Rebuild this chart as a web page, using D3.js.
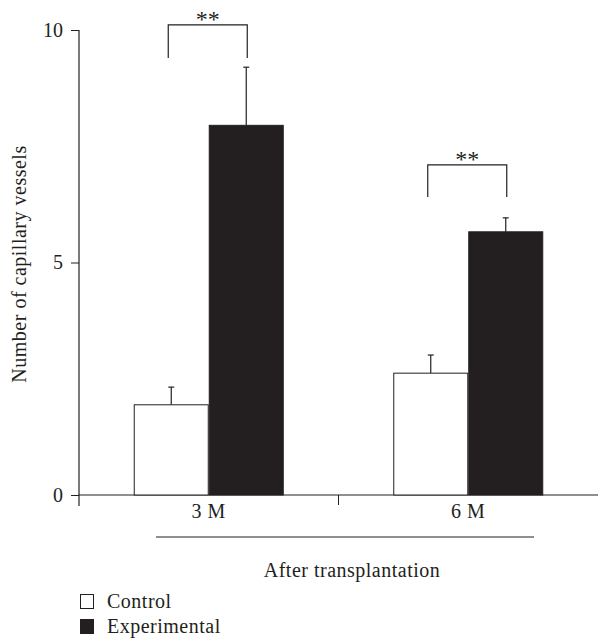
<!DOCTYPE html>
<html><head><meta charset="utf-8">
<script src="https://cdn.jsdelivr.net/npm/d3@7"></script>
<style>body{margin:0;background:#fff}svg{display:block}text{font-family:"Liberation Serif","DejaVu Serif",serif;fill:#231f20}</style>
</head><body><svg id="c" width="598" height="640"></svg>
<script>
const categories = ["3 M", "6 M"];
const seriesNames = ["Control", "Experimental"];
const controlValues = [1.94, 2.62];
const controlErrors = [0.38, 0.39];
const experimentalValues = [7.95, 5.66];
const experimentalErrors = [1.25, 0.30];
const yTicks = [0, 5, 10];
const sigLabels = ["**", "**"];
const sigTop = [10.11, 7.1];
const sigLeg = [9.4, 6.41];

const svg = d3.select("#c");
const ink = "#231f20";
const FS = 20;
const LS = "0.5px";
const y = d3.scaleLinear().domain([0, 10]).range([495, 30]);
const x0 = d3.scaleBand().domain(categories).range([79, 598]).padding(0);
const x1 = d3.scaleBand().domain(seriesNames).range([0, 150]);
const groupOffset = (x0.bandwidth() - 150) / 2;
const fills = { Control: "#fff", Experimental: ink };

// y axis
const yAxis = d3.axisLeft(y).tickValues(yTicks).tickSize(8).tickPadding(8).tickFormat(d3.format("d"));
const ya = svg.append("g").attr("transform", "translate(79,0)").call(yAxis);
ya.select(".domain").remove();
ya.selectAll("line").attr("stroke", ink);
ya.selectAll("text").attr("font-size", FS).style("font-family", '"Liberation Serif",serif').attr("fill", ink);
svg.append("line").attr("x1", 79).attr("x2", 79).attr("y1", y(10)).attr("y2", y(0) + 11).attr("stroke", ink).attr("stroke-width", 1.2);

// x axis line
svg.append("line").attr("x1", 79).attr("x2", 598).attr("y1", y(0)).attr("y2", y(0)).attr("stroke", ink).attr("stroke-width", 1);
// boundary tick
svg.append("line").attr("x1", x0(categories[1])).attr("x2", x0(categories[1])).attr("y1", y(0)).attr("y2", y(0) + 10).attr("stroke", ink);

const data = categories.map((c, i) => ({
  cat: c,
  bars: [
    { s: "Control", v: controlValues[i], e: controlErrors[i] },
    { s: "Experimental", v: experimentalValues[i], e: experimentalErrors[i] }
  ]
}));

const g = svg.selectAll(".grp").data(data).enter().append("g")
  .attr("transform", d => `translate(${x0(d.cat) + groupOffset},0)`);

// error bars
g.selectAll(".err").data(d => d.bars).enter().append("line")
  .attr("x1", d => x1(d.s) + x1.bandwidth() / 2).attr("x2", d => x1(d.s) + x1.bandwidth() / 2)
  .attr("y1", d => y(d.v)).attr("y2", d => y(d.v + d.e)).attr("stroke", ink).attr("stroke-width", 1.2);
g.selectAll(".cap").data(d => d.bars).enter().append("line")
  .attr("x1", d => x1(d.s) + x1.bandwidth() / 2 - 3).attr("x2", d => x1(d.s) + x1.bandwidth() / 2 + 3)
  .attr("y1", d => y(d.v + d.e)).attr("y2", d => y(d.v + d.e)).attr("stroke", ink).attr("stroke-width", 1.2);

g.selectAll("rect").data(d => d.bars).enter().append("rect")
  .attr("x", d => x1(d.s) + 0.5).attr("width", x1.bandwidth() - 1)
  .attr("y", d => y(d.v)).attr("height", d => y(0) - y(d.v))
  .attr("fill", d => fills[d.s]).attr("stroke", ink).attr("stroke-width", 1);

// category labels
g.append("text").attr("x", 75).attr("y", 518)
  .attr("text-anchor", "middle").attr("font-size", FS).style("letter-spacing", LS).text(d => d.cat);

// significance brackets
categories.forEach((c, i) => {
  const xl = x0(c) + groupOffset + x1.bandwidth() / 2 - 3;
  const xr = x0(c) + groupOffset + x1("Experimental") + x1.bandwidth() / 2 + 1;
  svg.append("path")
    .attr("d", `M${xl},${y(sigLeg[i])}V${y(sigTop[i])}H${xr}V${y(sigLeg[i])}`)
    .attr("fill", "none").attr("stroke", ink).attr("stroke-width", 1.2);
  svg.append("text").attr("x", (xl + xr) / 2).attr("y", y(sigTop[i]) + 2)
    .attr("text-anchor", "middle").attr("font-size", 24).text(sigLabels[i]);
});

// group underline & axis title
svg.append("line").attr("x1", 156).attr("x2", 534).attr("y1", 537).attr("y2", 537).attr("stroke", ink).attr("stroke-width", 1.2);
svg.append("text").attr("x", 352).attr("y", 577).attr("text-anchor", "middle").attr("font-size", FS).style("letter-spacing", LS).text("After transplantation");

// y title
svg.append("text").attr("transform", "translate(26,264) rotate(-90)").attr("text-anchor", "middle")
  .attr("font-size", FS).style("letter-spacing", LS).text("Number of capillary vessels");

// legend
const lg = svg.selectAll(".lg").data(seriesNames).enter().append("g")
  .attr("transform", (d, i) => `translate(80,${594 + i * 25})`);
lg.append("rect").attr("x", 0.5).attr("y", 0.5).attr("width", 13).attr("height", 14)
  .attr("fill", d => fills[d]).attr("stroke", ink);
lg.append("text").attr("x", 27).attr("y", 14).attr("font-size", FS).style("letter-spacing", LS).text(d => d);
</script></body></html>
